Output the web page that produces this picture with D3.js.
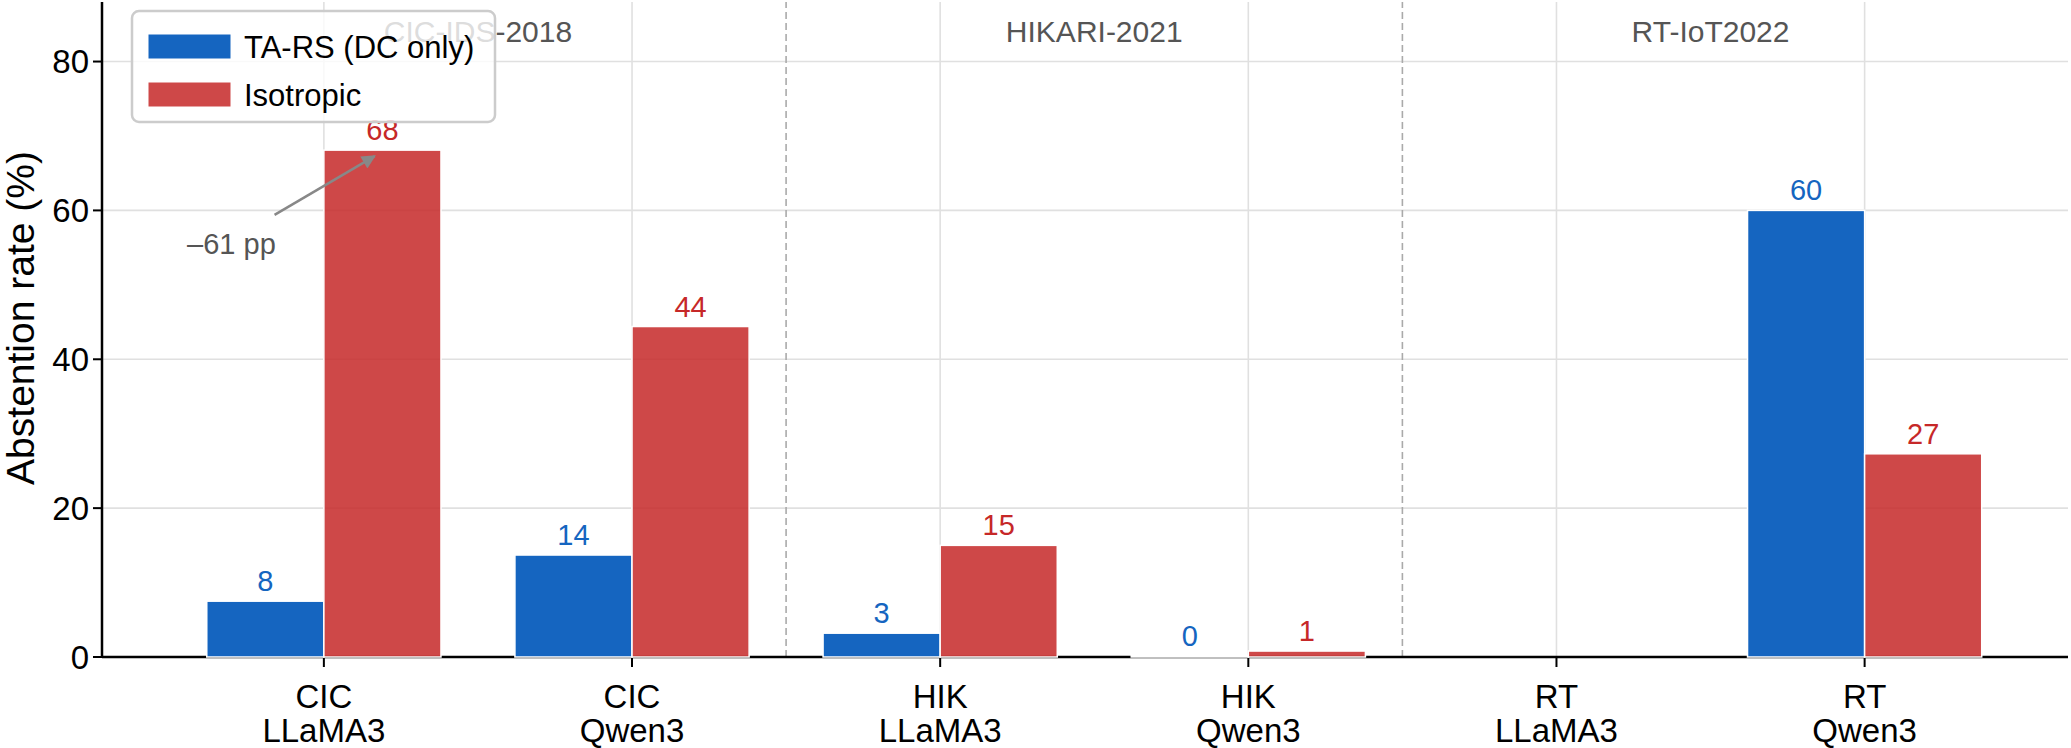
<!DOCTYPE html>
<html>
<head>
<meta charset="utf-8">
<script src="https://cdn.jsdelivr.net/npm/d3@7"></script>
<style>
  html, body { margin: 0; padding: 0; background: #fff; }
  svg { display: block; font-family: "Liberation Sans", Arial, sans-serif; }
</style>
</head>
<body>
<div id="chart"></div>
<script>
// Abstention rate per dataset / model, two methods

const categories = ["CIC\nLLaMA3", "CIC\nQwen3", "HIK\nLLaMA3", "HIK\nQwen3", "RT\nLLaMA3", "RT\nQwen3"];
const groups = ["CIC-IDS-2018", "HIKARI-2021", "RT-IoT2022"];
const seriesNames = ["TA-RS (DC only)", "Isotropic"];
const tarsValues = [7.5, 13.7, 3.2, 0.2, null, 60.0];
const isoValues = [68.1, 44.4, 15.0, 0.8, null, 27.3];
const yTicks = [0, 20, 40, 60, 80];

const W = 2071, H = 748;
const blue = "#1565C0", red = "#C62828";

const svg = d3.select("#chart").append("svg")
  .attr("width", W).attr("height", H);

// Scales (category index on a linear axis, like matplotlib)
const x = d3.scaleLinear().domain([-0.72, 5.66]).range([102, 2068]);
const y = d3.scaleLinear().domain([0, 88]).range([657, 2]);
const barW = x(0.38) - x(0);

// gridlines
const grid = svg.append("g");
grid.selectAll(".gy").data(yTicks).enter().append("line")
  .attr("x1", x.range()[0]).attr("x2", x.range()[1])
  .attr("y1", d => y(d)).attr("y2", d => y(d))
  .attr("stroke", "#e0e0e0").attr("stroke-width", 1.6);
grid.selectAll(".gx").data(categories).enter().append("line")
  .attr("x1", (d, i) => x(i)).attr("x2", (d, i) => x(i))
  .attr("y1", y.range()[0]).attr("y2", y.range()[1])
  .attr("stroke", "#e0e0e0").attr("stroke-width", 1.6);

// dataset separators
svg.selectAll(".sep").data([1.5, 3.5]).enter().append("line")
  .attr("x1", d => x(d)).attr("x2", d => x(d))
  .attr("y1", y.range()[0]).attr("y2", y.range()[1])
  .attr("stroke", "#aaaaaa").attr("stroke-width", 1.6)
  .attr("stroke-dasharray", "7,4");

// dataset labels
svg.selectAll(".grp").data(groups).enter().append("text")
  .attr("x", (d, i) => x(i * 2 + 0.5))
  .attr("y", 42)
  .attr("text-anchor", "middle")
  .style("font-size", "30px")
  .style("fill", "#555")
  .text(d => d);

// spines
svg.append("line")
  .attr("x1", x.range()[0]).attr("x2", x.range()[0])
  .attr("y1", y.range()[0]).attr("y2", y.range()[1])
  .attr("stroke", "#000").attr("stroke-width", 2.5);
svg.append("line")
  .attr("x1", x.range()[0]).attr("x2", x.range()[1])
  .attr("y1", y(0)).attr("y2", y(0))
  .attr("stroke", "#000").attr("stroke-width", 2.5);

// y ticks
const yAxis = svg.append("g");
yAxis.selectAll("line").data(yTicks).enter().append("line")
  .attr("x1", x.range()[0] - 9).attr("x2", x.range()[0])
  .attr("y1", d => y(d)).attr("y2", d => y(d))
  .attr("stroke", "#000").attr("stroke-width", 2);
yAxis.selectAll("text").data(yTicks).enter().append("text")
  .attr("x", x.range()[0] - 13)
  .attr("y", d => y(d))
  .attr("dy", "0.36em")
  .attr("text-anchor", "end")
  .style("font-size", "33px")
  .text(d => d);

// x ticks
const xAxis = svg.append("g");
xAxis.selectAll("line").data(categories).enter().append("line")
  .attr("x1", (d, i) => x(i)).attr("x2", (d, i) => x(i))
  .attr("y1", y(0)).attr("y2", y(0) + 10)
  .attr("stroke", "#000").attr("stroke-width", 2);
const xl = xAxis.selectAll("text").data(categories).enter().append("text")
  .attr("text-anchor", "middle")
  .style("font-size", "33px");
xl.each(function(d, i) {
  const t = d3.select(this);
  d.split("\n").forEach((line, j) => {
    t.append("tspan").attr("x", x(i)).attr("y", 708 + j * 34).text(line);
  });
});

// y label
svg.append("text")
  .attr("transform", "translate(34, 318) rotate(-90)")
  .attr("text-anchor", "middle")
  .style("font-size", "39px")
  .text("Abstention rate (%)");

// bars
const series = [
  { name: seriesNames[0], values: tarsValues, color: blue, off: -0.19, op: 1 },
  { name: seriesNames[1], values: isoValues, color: red, off: 0.19, op: 0.85 }
];
series.forEach(s => {
  const data = s.values.map((v, i) => ({ i, v })).filter(d => d.v !== null);
  svg.selectAll(null).data(data).enter().append("rect")
    .attr("x", d => x(d.i + s.off) - barW / 2)
    .attr("y", d => y(d.v))
    .attr("width", barW)
    .attr("height", d => y(0) - y(d.v))
    .attr("fill", s.color)
    .attr("fill-opacity", s.op)
    .attr("stroke", "#fff")
    .attr("stroke-width", 1.5);
  svg.selectAll(null).data(data).enter().append("text")
    .attr("x", d => x(d.i + s.off))
    .attr("y", d => y(d.v) - 10)
    .attr("text-anchor", "middle")
    .style("font-size", "29px")
    .style("fill", s.color)
    .text(d => Math.round(d.v));
});

// annotation arrow
const annText = { x: -0.30, y: 55.6 };
const arrowFrom = { x: -0.16, y: 59.4 };
const arrowTo = { x: 0.165, y: 67.3 };
svg.append("defs").append("marker")
  .attr("id", "ah").attr("viewBox", "0 0 10 10")
  .attr("refX", 9).attr("refY", 5)
  .attr("markerWidth", 16).attr("markerHeight", 14)
  .attr("markerUnits", "userSpaceOnUse")
  .attr("orient", "auto")
  .append("path").attr("d", "M0,0 L10,5 L0,10 z").attr("fill", "#888");
svg.append("line")
  .attr("x1", x(arrowFrom.x)).attr("y1", y(arrowFrom.y))
  .attr("x2", x(arrowTo.x)).attr("y2", y(arrowTo.y))
  .attr("stroke", "#888").attr("stroke-width", 2.5)
  .attr("marker-end", "url(#ah)");
svg.append("text")
  .attr("x", x(annText.x)).attr("y", y(annText.y))
  .attr("dy", "0.36em")
  .attr("text-anchor", "middle")
  .style("font-size", "29px")
  .style("fill", "#555")
  .text("\u201361 pp");

// legend
const lg = svg.append("g").attr("transform", "translate(132, 11)");
lg.append("rect")
  .attr("width", 363).attr("height", 111).attr("rx", 7)
  .attr("fill", "#fff").attr("fill-opacity", 0.8)
  .attr("stroke", "#cccccc").attr("stroke-width", 2.5);
series.forEach((s, k) => {
  lg.append("rect")
    .attr("x", 16).attr("y", 23 + k * 48)
    .attr("width", 83).attr("height", 25)
    .attr("fill", s.color).attr("fill-opacity", s.op)
    .attr("stroke", "#fff").attr("stroke-width", 1);
  lg.append("text")
    .attr("x", 112).attr("y", 36 + k * 48)
    .attr("dy", "0.36em")
    .style("font-size", "31px")
    .text(s.name);
});
</script>
</body>
</html>
